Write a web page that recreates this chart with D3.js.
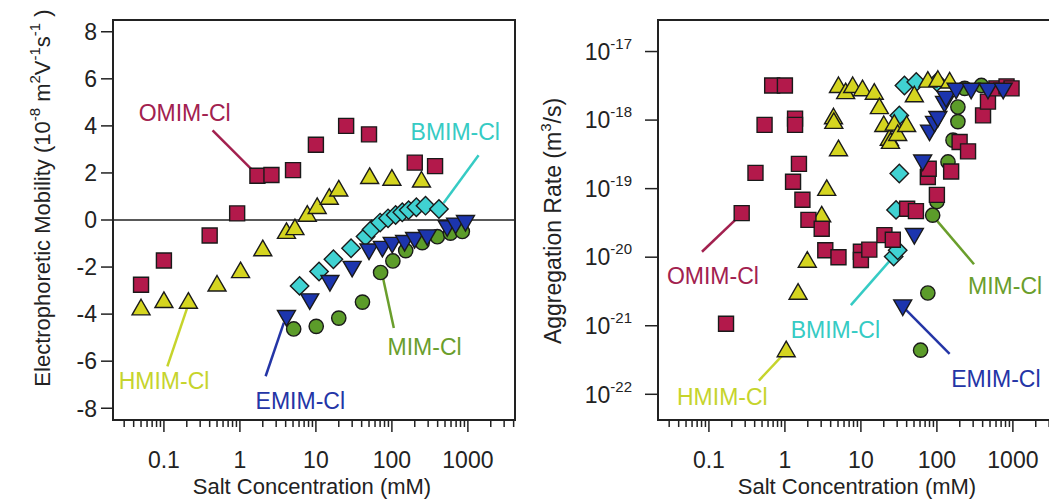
<!DOCTYPE html>
<html><head><meta charset="utf-8">
<script src="https://cdn.jsdelivr.net/npm/d3@7"></script>
<style>
html,body{margin:0;padding:0;background:#fff;}
text{font-family:"Liberation Sans",Arial,Helvetica,sans-serif;}
</style></head>
<body><svg id="chart" width="1049" height="501"></svg>
<script>
// ---------- Data: left panel (electrophoretic mobility, 1e-8 m^2 V^-1 s^-1) ----------
const mobOMIM_x = [0.05, 0.1, 0.4, 0.92, 1.7, 2.6, 5.0, 10, 25, 50, 200, 370];
const mobOMIM_y = [-2.75, -1.72, -0.66, 0.28, 1.88, 1.91, 2.12, 3.2, 4.0, 3.64, 2.44, 2.29];
const mobHMIM_x = [0.05, 0.1, 0.21, 0.5, 1.02, 2.0, 4.1, 5.3, 7.7, 10.4, 15, 20, 51, 100, 245];
const mobHMIM_y = [-3.81, -3.5, -3.53, -2.8, -2.23, -1.3, -0.56, -0.4, 0.17, 0.5, 0.89, 1.24, 1.77, 1.7, 1.62];
const mobBMIM_x = [6.1, 11, 17, 29, 45, 54, 70, 89, 112, 137, 166, 210, 277, 416];
const mobBMIM_y = [-2.8, -2.19, -1.67, -1.2, -0.7, -0.4, -0.11, 0.07, 0.21, 0.33, 0.42, 0.54, 0.61, 0.47];
const mobEMIM_x = [4.1, 8.3, 15.3, 30, 50, 75, 101, 147, 199, 292, 534, 690, 930];
const mobEMIM_y = [-4.07, -3.36, -2.58, -1.98, -1.24, -1.13, -0.96, -0.88, -0.75, -0.64, -0.25, -0.14, -0.03];
const mobMIM_x = [5.1, 10.1, 20, 41, 71, 103, 152, 251, 396, 590, 845];
const mobMIM_y = [-4.63, -4.52, -4.17, -3.49, -2.23, -1.74, -1.3, -0.96, -0.71, -0.56, -0.49];

// ---------- Data: right panel (aggregation rate, m^3/s) ----------
const rateOMIM_x = [0.168, 0.27, 0.41, 0.54, 0.68, 1.0, 1.36, 1.36, 1.28, 1.53, 1.70, 2.04, 3.05, 3.4, 5.07, 10, 10, 12.9, 20.4, 26.3, 40.6, 53, 76, 78, 100, 154, 199, 257, 405, 470, 607, 825, 960];
const rateOMIM_y = [1.07e-21, 4.4e-20, 1.7e-19, 8.5e-19, 3.2e-18, 3.2e-18, 1.05e-18, 8.5e-19, 1.26e-19, 2.3e-19, 6.9e-20, 3.5e-20, 2.6e-20, 1.26e-20, 1.0e-20, 1.2e-20, 9.1e-21, 1.29e-20, 2.1e-20, 1.8e-20, 5.1e-20, 4.7e-20, 1.48e-19, 1.95e-19, 8.1e-20, 1.78e-19, 4.8e-19, 3.5e-19, 1.17e-18, 1.86e-18, 2.9e-18, 3.1e-18, 2.9e-18];
const rateHMIM_x = [1.04, 1.49, 1.97, 3.05, 3.55, 4.36, 4.4, 5.07, 5.07, 6.3, 7.8, 10.5, 15, 17.5, 20, 23.6, 24.5, 27.5, 30.5, 40, 50.5, 76, 103, 147];
const rateHMIM_y = [4.2e-22, 2.9e-21, 8.5e-21, 3.9e-20, 9.5e-20, 1.05e-18, 9.0e-19, 3.6e-19, 3.0e-18, 2.45e-18, 3.0e-18, 2.7e-18, 2.4e-18, 1.48e-18, 8.1e-19, 5.1e-19, 4.6e-19, 8.5e-19, 6.0e-19, 8.1e-19, 2.2e-18, 3.6e-18, 3.7e-18, 3.5e-18];
const rateBMIM_x = [27, 30.5, 29, 32, 32, 37.4, 53.5, 100];
const rateBMIM_y = [1.02e-20, 1.26e-20, 4.9e-20, 1.66e-19, 1.17e-18, 3.2e-18, 3.6e-18, 3.6e-18];
const rateEMIM_x = [35.5, 50.5, 65, 80, 93, 103, 126, 132, 179, 282, 470, 745];
const rateEMIM_y = [2.0e-21, 2.2e-20, 2.6e-19, 7.1e-19, 9.5e-19, 1.12e-18, 1.86e-18, 2.2e-18, 2.9e-18, 2.9e-18, 2.9e-18, 2.9e-18];
const rateMIM_x = [61, 76, 88, 100, 140, 163, 189, 189, 232, 385];
const rateMIM_y = [4.4e-22, 3.0e-21, 4.1e-20, 6.5e-20, 2.45e-19, 5.1e-19, 9.5e-19, 1.55e-18, 2.9e-18, 3.2e-18];

// ---------- Axis ticks ----------
const xTickValues = [0.1, 1, 10, 100, 1000];
const xTickLabels = ["0.1", "1", "10", "100", "1000"];
const mobTickValues = [-8, -6, -4, -2, 0, 2, 4, 6, 8];
const rateTickExponents = [-22, -21, -20, -19, -18, -17];

// ---------- Series names / colours ----------
const seriesNames = ["MIM-Cl", "BMIM-Cl", "HMIM-Cl", "OMIM-Cl", "EMIM-Cl"];
const fillColors = {"OMIM-Cl":"#b3194b","HMIM-Cl":"#d5d520","BMIM-Cl":"#40d2d2","EMIM-Cl":"#1c35ae","MIM-Cl":"#5c9c2a"};
const labelColors = {"OMIM-Cl":"#a2214f","HMIM-Cl":"#c6d42c","BMIM-Cl":"#36cbc4","EMIM-Cl":"#2435a6","MIM-Cl":"#6a9e2c"};

// annotation label + leader line, in data coordinates: [labelX, labelY, lineX1, lineY1, lineX2, lineY2]
const mobAnnot = {
  "OMIM-Cl": [0.0465, 4.19, 0.437, 3.81, 1.46, 2.12],
  "BMIM-Cl": [176, 3.39, 1383, 2.75, 479, 0.72],
  "HMIM-Cl": [0.0254, -7.2, 0.111, -6.22, 0.207, -3.64],
  "EMIM-Cl": [1.61, -8.05, 2.18, -6.64, 3.79, -4.36],
  "MIM-Cl":  [87.7, -5.72, 106, -4.59, 74.8, -2.33]
};
const rateAnnot = {
  "OMIM-Cl": [0.028, 4.0e-21, 0.081, 1.2e-20, 0.247, 3.9e-20],
  "HMIM-Cl": [0.038, 6.9e-23, 0.454, 1.58e-22, 0.97, 3.9e-22],
  "BMIM-Cl": [1.19, 6.6e-22, 7.38, 2.0e-21, 24.9, 9.3e-21],
  "MIM-Cl":  [257, 2.9e-21, 308, 7.9e-21, 98, 3.5e-20],
  "EMIM-Cl": [154, 1.29e-22, 147, 3.9e-22, 35.6, 1.9e-21]
};

const mobData = {
  "OMIM-Cl": [mobOMIM_x, mobOMIM_y], "HMIM-Cl": [mobHMIM_x, mobHMIM_y],
  "BMIM-Cl": [mobBMIM_x, mobBMIM_y], "EMIM-Cl": [mobEMIM_x, mobEMIM_y],
  "MIM-Cl": [mobMIM_x, mobMIM_y]
};
const rateData = {
  "OMIM-Cl": [rateOMIM_x, rateOMIM_y], "HMIM-Cl": [rateHMIM_x, rateHMIM_y],
  "BMIM-Cl": [rateBMIM_x, rateBMIM_y], "EMIM-Cl": [rateEMIM_x, rateEMIM_y],
  "MIM-Cl": [rateMIM_x, rateMIM_y]
};

// ---------- Drawing ----------
const svg = d3.select("#chart");
const FS = 23;
const xDomain = [Math.pow(10, -1.67), Math.pow(10, 3.62)];

const symbolFor = {
  "OMIM-Cl": {type: d3.symbolSquare, size: 225, rot: 0},
  "HMIM-Cl": {type: d3.symbolTriangle, size: 140, rot: 0},
  "BMIM-Cl": {type: d3.symbolSquare, size: 170, rot: 45},
  "EMIM-Cl": {type: d3.symbolTriangle, size: 140, rot: 180},
  "MIM-Cl":  {type: d3.symbolCircle, size: 160, rot: 0}
};

function drawXAxis(g, x, yBottom) {
  // major + minor ticks, outward
  const [d0, d1] = x.domain();
  const minor = [];
  for (let e = -2; e <= 3; e++) for (let m = 1; m <= 9; m++) {
    const v = m * Math.pow(10, e);
    if (v >= d0 && v <= d1) minor.push(v);
  }
  g.selectAll(null).data(minor).enter().append("line")
    .attr("x1", d => x(d)).attr("x2", d => x(d))
    .attr("y1", yBottom).attr("y2", d => yBottom + (xTickValues.includes(d) ? 12 : 7))
    .attr("stroke", "#222").attr("stroke-width", 1.5);
  g.selectAll(null).data(xTickValues).enter().append("text")
    .attr("x", d => x(d)).attr("y", yBottom + 48)
    .attr("text-anchor", "middle").attr("font-size", FS).attr("fill", "#222")
    .text((d, i) => xTickLabels[i]);
  const xr = x.range();
  g.append("text")
    .attr("x", (xr[0] + xr[1]) / 2 - 2).attr("y", yBottom + 74)
    .attr("text-anchor", "middle").attr("font-size", FS - 1).attr("fill", "#222")
    .text("Salt Concentration (mM)");
}

function drawMarkers(g, x, y, data) {
  seriesNames.forEach(name => {
    const [xs, ys] = data[name];
    const s = symbolFor[name];
    const path = d3.symbol().type(s.type).size(s.size)();
    g.selectAll(null).data(xs.map((v, i) => [v, ys[i]])).enter().append("path")
      .attr("d", path)
      .attr("transform", d => `translate(${x(d[0])},${y(d[1])}) rotate(${s.rot})`)
      .attr("fill", fillColors[name]).attr("stroke", "#1a1a1a").attr("stroke-width", 1.4);
  });
}

function drawAnnotations(g, x, y, annot) {
  Object.keys(annot).forEach(name => {
    const a = annot[name];
    g.append("line")
      .attr("x1", x(a[2])).attr("y1", y(a[3])).attr("x2", x(a[4])).attr("y2", y(a[5]))
      .attr("stroke", labelColors[name]).attr("stroke-width", 2.5);
    g.append("text").attr("x", x(a[0])).attr("y", y(a[1]))
      .attr("font-size", FS).attr("fill", labelColors[name]).text(name);
  });
}

// ---- Left panel ----
{
  const x = d3.scaleLog().domain(xDomain).range([113, 515]);
  const y = d3.scaleLinear().domain([-8.5, 8.5]).range([420, 20]);
  const g = svg.append("g");
  drawXAxis(g, x, 420);
  // y ticks
  g.selectAll(null).data(mobTickValues).enter().append("line")
    .attr("x1", 101).attr("x2", 113).attr("y1", d => y(d)).attr("y2", d => y(d))
    .attr("stroke", "#222").attr("stroke-width", 1.5);
  g.selectAll(null).data(mobTickValues).enter().append("text")
    .attr("x", 97).attr("y", d => y(d)).attr("dy", "0.36em")
    .attr("text-anchor", "end").attr("font-size", FS).attr("fill", "#222")
    .text(d => String(d));
  // zero line
  g.append("line").attr("x1", 113).attr("x2", 515).attr("y1", y(0)).attr("y2", y(0))
    .attr("stroke", "#222").attr("stroke-width", 1.3);
  drawAnnotations(g, x, y, mobAnnot);
  drawMarkers(g, x, y, mobData);
  g.append("rect").attr("x", 113).attr("y", 20).attr("width", 402).attr("height", 400)
    .attr("fill", "none").attr("stroke", "#222").attr("stroke-width", 2);
  // y label
  const t = g.append("text").attr("transform", "translate(50,198) rotate(-90)")
    .attr("text-anchor", "middle").attr("font-size", 22).attr("fill", "#222");
  const parts = [["Electrophoretic Mobility (10", 0], ["-8", 1], [" m", 0], ["2", 1], ["V", 0], ["-1", 1], ["s", 0], ["-1", 1], [" )", 0]];
  let prevSup = false;
  parts.forEach(([s, sup]) => {
    const ts = t.append("tspan").text(s);
    if (sup) { ts.attr("font-size", 15).attr("dy", prevSup ? 0 : -10); }
    else if (prevSup) { ts.attr("dy", 10); }
    prevSup = !!sup;
  });
}

// ---- Right panel ----
{
  const x = d3.scaleLog().domain(xDomain).range([658, 1060]);
  const y = d3.scaleLog().domain([Math.pow(10, -22.375), Math.pow(10, -16.54)]).range([420, 20]);
  const g = svg.append("g");
  drawXAxis(g, x, 420);
  const tv = rateTickExponents.map(e => Math.pow(10, e));
  g.selectAll(null).data(tv).enter().append("line")
    .attr("x1", 645).attr("x2", 658).attr("y1", d => y(d)).attr("y2", d => y(d))
    .attr("stroke", "#222").attr("stroke-width", 1.5);
  rateTickExponents.forEach((e, i) => {
    const tt = g.append("text").attr("x", 632).attr("y", y(tv[i])).attr("dy", "0.36em")
      .attr("text-anchor", "end").attr("font-size", FS).attr("fill", "#222");
    tt.append("tspan").text("10");
    tt.append("tspan").attr("font-size", 15).attr("dy", -11).text(String(e));
  });
  drawAnnotations(g, x, y, rateAnnot);
  drawMarkers(g, x, y, rateData);
  g.append("path").attr("d", "M1060,20H658V420H1060")
    .attr("fill", "none").attr("stroke", "#222").attr("stroke-width", 2);
  const t = g.append("text").attr("transform", "translate(561,221) rotate(-90)")
    .attr("text-anchor", "middle").attr("font-size", FS).attr("fill", "#222");
  t.append("tspan").text("Aggregation Rate (m");
  t.append("tspan").attr("font-size", 15).attr("dy", -10).text("3");
  t.append("tspan").attr("dy", 10).text("/s)");
}
</script>
</body></html>
